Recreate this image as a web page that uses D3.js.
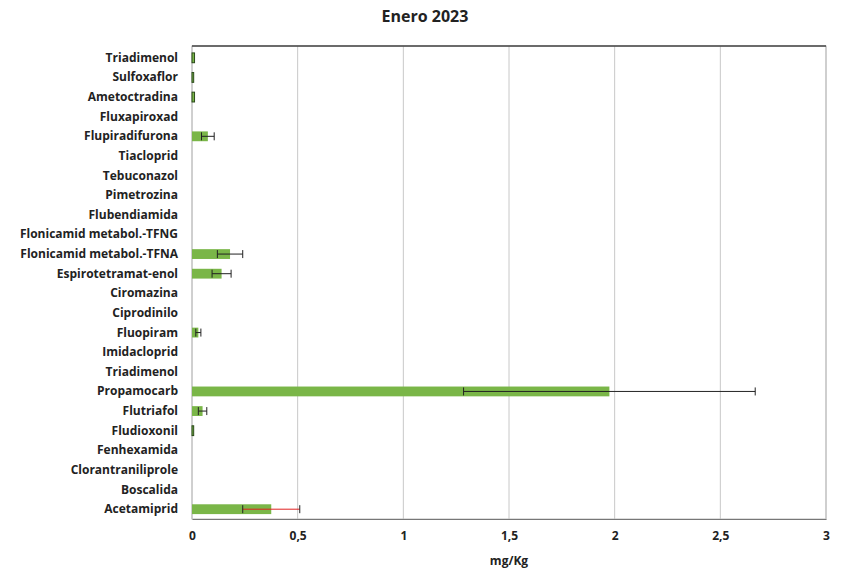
<!DOCTYPE html>
<html><head><meta charset="utf-8">
<script src="https://cdn.jsdelivr.net/npm/d3@7"></script>
<style>body{margin:0;background:#fff;font-family:"Open Sans",Calibri,sans-serif}</style>
</head><body><svg id="c" width="850" height="579"></svg>
<script>
const categories=["Triadimenol","Sulfoxaflor","Ametoctradina","Fluxapiroxad","Flupiradifurona","Tiacloprid","Tebuconazol","Pimetrozina","Flubendiamida","Flonicamid metabol.-TFNG","Flonicamid metabol.-TFNA","Espirotetramat-enol","Ciromazina","Ciprodinilo","Fluopiram","Imidacloprid","Triadimenol ","Propamocarb","Flutriafol","Fludioxonil","Fenhexamida","Clorantraniliprole","Boscalida","Acetamiprid"];
const values=[0.012,0.008,0.012,0,0.075,0,0,0,0,0,0.18,0.14,0,0,0.03,0,0,1.975,0.05,0.008,0,0,0,0.375];
const errors=[0,0,0,0,0.03,0,0,0,0,0,0.06,0.045,0,0,0.012,0,0,0.69,0.02,0,0,0,0,0.135];
const xTicks=[0,0.5,1,1.5,2,2.5,3];
const xTickLabels=["0","0,5","1","1,5","2","2,5","3"];
const svg=d3.select("#c");
const L=192,R=826,T=48,B=519;
const x=d3.scaleLinear().domain([0,3]).range([L,R]);
const y=d3.scaleBand().domain(categories).range([T,B]).paddingInner(0.5).paddingOuter(0.25);
svg.append("text").attr("x",425).attr("y",22).attr("text-anchor","middle").attr("font-size",16).attr("font-weight","bold").attr("fill","#222").text("Enero 2023");
svg.append("g").selectAll("line").data(xTicks).join("line").attr("x1",d=>x(d)).attr("x2",d=>x(d)).attr("y1",T-2).attr("y2",B).attr("stroke","#c8c8c8");
svg.append("rect").attr("x",L).attr("y",T-2).attr("width",R-L).attr("height",B-T+2).attr("fill","none").attr("stroke","#bbb");
svg.append("line").attr("x1",L).attr("x2",R).attr("y1",T-2).attr("y2",T-2).attr("stroke","#444").attr("stroke-width",1.5);
const ax=svg.append("g").attr("transform",`translate(0,${B})`).call(d3.axisBottom(x).tickValues(xTicks).tickFormat((d,i)=>xTickLabels[i]).tickSize(0).tickPadding(12));
ax.select(".domain").attr("stroke","#777");
ax.selectAll("text").attr("font-size",12).attr("font-weight","bold").attr("fill","#222").attr("font-family","Open Sans,sans-serif");
svg.append("text").attr("x",x(1.5)).attr("y",565).attr("text-anchor","middle").attr("font-size",12).attr("font-weight","bold").attr("fill","#222").text("mg/Kg");
svg.append("g").selectAll("text").data(categories).join("text").attr("x",178).attr("y",d=>y(d)+y.bandwidth()/2+4).attr("text-anchor","end").attr("font-size",12).attr("font-weight","bold").attr("fill","#222").text(d=>d.trim());
svg.append("g").selectAll("rect").data(categories).join("rect").attr("x",x(0)).attr("y",d=>y(d)).attr("height",y.bandwidth()).attr("width",(d,i)=>x(values[i])-x(0)).attr("fill","#7ab648").attr("stroke",(d,i)=>values[i]<0.02&&values[i]>0?"#2a4a1a":"none");
const eb=svg.append("g").attr("stroke","#222").attr("stroke-width",1);
categories.forEach((c,i)=>{if(!errors[i])return;const cy=y(c)+y.bandwidth()/2,a=x(values[i]-errors[i]),b=x(values[i]+errors[i]);
eb.append("line").attr("x1",a).attr("x2",b).attr("y1",cy).attr("y2",cy).attr("stroke",c==="Acetamiprid"?"#e02020":"#222");
[a,b].forEach(px=>eb.append("line").attr("x1",px).attr("x2",px).attr("y1",cy-4).attr("y2",cy+4));});
</script></body></html>
